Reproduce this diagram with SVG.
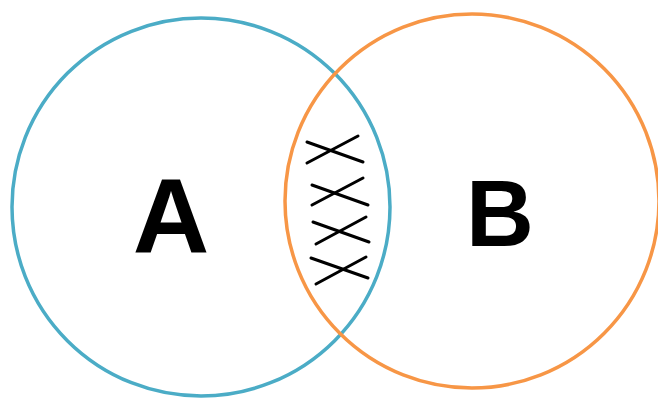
<svg xmlns="http://www.w3.org/2000/svg" width="658" height="398" viewBox="0 0 658 398">
<style>
.ring{fill:none;stroke-width:3.5}
.x{stroke:#000;stroke-width:3;stroke-linecap:round}
.lbl{font-family:"Liberation Sans",Arial,sans-serif;font-weight:bold;fill:#000;text-anchor:middle}
</style>
<rect width="658" height="398" fill="#fff"/>
<g id="setA">
<circle class="ring" cx="201" cy="207" r="189" stroke="#4bacc6"/>
<text class="lbl" x="171" y="253" font-size="106">A</text>
</g>
<g id="setB">
<circle class="ring" cx="472" cy="201" r="187" stroke="#f79646"/>
<text class="lbl" x="500" y="246" font-size="94">B</text>
</g>
<g id="intersection">
<line class="x" x1="307" y1="142" x2="363" y2="162"/>
<line class="x" x1="307" y1="163" x2="358" y2="136"/>
<line class="x" x1="312" y1="185" x2="368" y2="205"/>
<line class="x" x1="312" y1="205" x2="363" y2="178"/>
<line class="x" x1="313" y1="222" x2="369" y2="242"/>
<line class="x" x1="316" y1="244" x2="366" y2="217"/>
<line class="x" x1="311" y1="258" x2="368" y2="278"/>
<line class="x" x1="316" y1="284" x2="366" y2="257"/>
</g>
</svg>
